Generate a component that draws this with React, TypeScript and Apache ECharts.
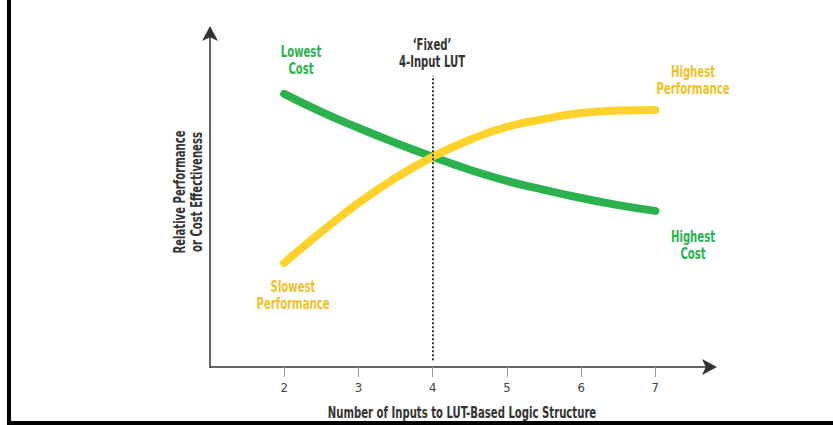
import React, { useEffect, useRef } from "react";
import * as echarts from "echarts";

// Number of LUT inputs sampled along each curve
const inputs = [2, 2.5, 3, 3.5, 4, 4.5, 5, 5.5, 6, 6.5, 7];
// Cost effectiveness (green) and performance (yellow), relative units
const costValues = [80.3, 75.0, 70.3, 65.9, 61.8, 58.0, 54.7, 52.1, 49.7, 47.6, 45.9];
const perfValues = [30.6, 39.7, 48.2, 55.6, 61.8, 66.8, 70.6, 72.9, 74.7, 75.4, 75.6];
const tickValues = [2, 3, 4, 5, 6, 7];
const fixedLutInputs = 4;

const GREEN = "#2bb24f";
const YELLOW = "#fed12b";
const YELLOW_TEXT = "#efc12a";
const DARK = "#333333";
const FONT = "'DejaVu Sans Condensed', 'Roboto', sans-serif";
// horizontal squeeze to get a narrow, condensed look
const SQUEEZE = 0.75;

function label(text: string, x: number, y: number, color: string, rotation = 0) {
  return {
    type: "text",
    x,
    y,
    rotation,
    scaleX: SQUEEZE,
    style: {
      text,
      fill: color,
      font: `bold 15px ${FONT}`,
      textAlign: "center",
      textVerticalAlign: "middle",
      lineHeight: 17,
    },
  };
}

export default function App() {
  const ref = useRef<HTMLDivElement>(null);

  useEffect(() => {
    if (!ref.current) return;
    const chart = echarts.init(ref.current, null, { renderer: "svg" });
    chart.setOption({
      animation: false,
      backgroundColor: "#ffffff",
      grid: { left: 210, right: 122, top: 32, bottom: 58 },
      xAxis: {
        type: "value",
        min: 1,
        max: 7.75,
        interval: 1,
        splitLine: { show: false },
        axisLine: {
          lineStyle: { color: DARK, width: 1.5 },
          symbol: ["none", "arrow"],
          symbolSize: [12, 15],
          symbolOffset: [0, 6],
        },
        axisTick: {
          customValues: tickValues,
          length: 10,
          lineStyle: { color: "#999", width: 1 },
        },
        axisLabel: {
          customValues: tickValues,
          color: "#444",
          fontSize: 13,
          fontFamily: FONT,
          margin: 14,
        },
      },
      yAxis: {
        type: "value",
        min: 0,
        max: 98.5,
        splitLine: { show: false },
        axisTick: { show: false },
        axisLabel: { show: false },
        axisLine: {
          show: true,
          lineStyle: { color: DARK, width: 1.5 },
          symbol: ["none", "arrow"],
          symbolSize: [12, 15],
          symbolOffset: [0, 6],
        },
      },
      series: [
        {
          type: "line",
          smooth: true,
          symbol: "none",
          data: inputs.map((x, i) => [x, costValues[i]]),
          lineStyle: { color: GREEN, width: 8, cap: "round" },
          z: 2,
        },
        {
          type: "line",
          smooth: true,
          symbol: "none",
          data: inputs.map((x, i) => [x, perfValues[i]]),
          lineStyle: { color: YELLOW, width: 8, cap: "round" },
          z: 3,
        },
        {
          type: "line",
          data: [],
          z: 4,
          markLine: {
            silent: true,
            symbol: "none",
            label: { show: false },
            lineStyle: { color: DARK, width: 2, type: [2, 2] },
            data: [[{ coord: [fixedLutInputs, 2] }, { coord: [fixedLutInputs, 85.6] }]],
          },
        },
      ],
      graphic: [
        { type: "rect", shape: { x: 7, y: 0, width: 4, height: 425 }, style: { fill: "#000" } },
        { type: "rect", shape: { x: 7, y: 421, width: 826, height: 4 }, style: { fill: "#000" } },
        label("Lowest\nCost", 301, 60, GREEN),
        label("\u2018Fixed\u2019\n4-Input LUT", 432, 53, DARK),
        label("Highest\nPerformance", 693, 80, YELLOW_TEXT),
        label("Highest\nCost", 693, 245, GREEN),
        label("Slowest\nPerformance", 293, 295, YELLOW_TEXT),
        label("Number of Inputs to LUT-Based Logic Structure", 462, 413, DARK),
        label("Relative Performance\nor Cost Effectiveness", 188, 192, DARK, Math.PI / 2),
      ],
    });
    return () => chart.dispose();
  }, []);

  return (
    <div
      ref={ref}
      style={{ position: "absolute", left: 0, top: 0, width: 833, height: 425 }}
    />
  );
}
